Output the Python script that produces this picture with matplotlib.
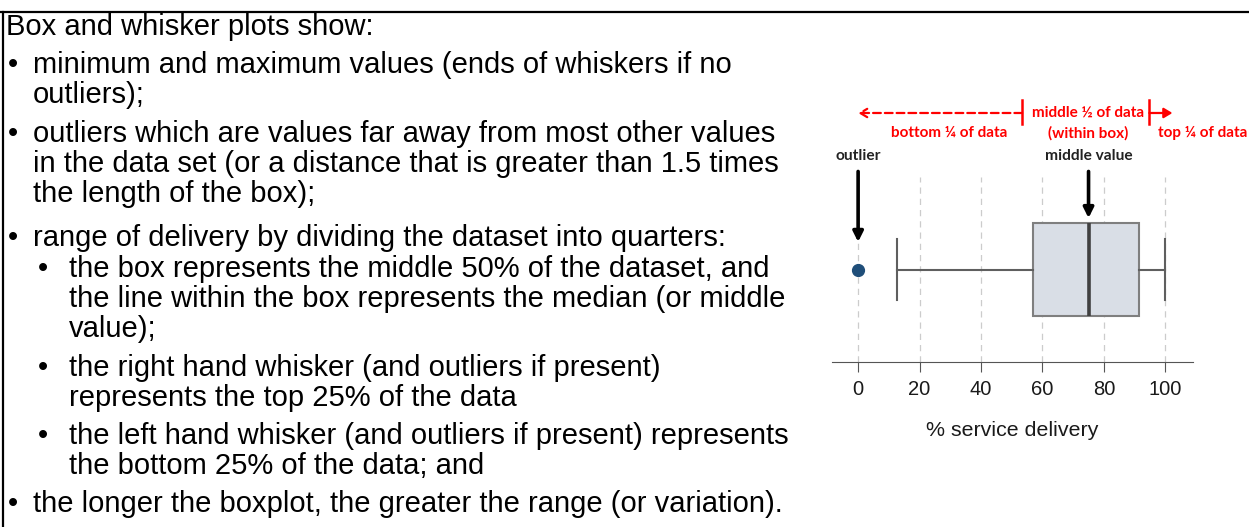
import matplotlib.pyplot as plt
from matplotlib.lines import Line2D

# box plot summary (% service delivery)
q1 = 57
median = 75
q3 = 91.5
whisker_low = 12.7
whisker_high = 100
outliers = [0]
ticks = [0, 20, 40, 60, 80, 100]

# left hand text: (bullet x, text x, text)
lines = [
    (None, 6, "Box and whisker plots show:"),
    (8, 33, "minimum and maximum values (ends of whiskers if no"),
    (None, 33, "outliers);"),
    (8, 33, "outliers which are values far away from most other values"),
    (None, 33, "in the data set (or a distance that is greater than 1.5 times"),
    (None, 33, "the length of the box);"),
    (8, 33, "range of delivery by dividing the dataset into quarters:"),
    (38, 69, "the box represents the middle 50% of the dataset, and"),
    (None, 69, "the line within the box represents the median (or middle"),
    (None, 69, "value);"),
    (38, 69, "the right hand whisker (and outliers if present)"),
    (None, 69, "represents the top 25% of the data"),
    (38, 69, "the left hand whisker (and outliers if present) represents"),
    (None, 69, "the bottom 25% of the data; and"),
    (8, 33, "the longer the boxplot, the greater the range (or variation)."),
]
# baselines in pixels from the top
line_y = [35, 73, 103, 142, 172, 202, 246, 277, 307, 337, 376, 406, 444, 474, 512]

W, H = 1249, 527
fig = plt.figure(figsize=(W / 100, H / 100), dpi=100)

# frame lines (top and left)
fig.add_artist(Line2D([0, 1], [1 - 11.5 / H, 1 - 11.5 / H], color="black", lw=1.6))
fig.add_artist(Line2D([3 / W, 3 / W], [0, 1 - 11.5 / H], color="black", lw=1.6))

fs = 21
for (bx, tx, txt), y in zip(lines, line_y):
    if bx is not None:
        fig.text(bx / W, 1 - y / H, "\u2022", family="Liberation Sans", fontsize=fs,
                 va="baseline", ha="left")
    fig.text(tx / W, 1 - y / H, txt, family="Liberation Sans", fontsize=fs,
             va="baseline", ha="left", color="black")

ax = fig.add_axes([832 / W, 1 - 362 / H, (1193 - 832) / W, (362 - 177) / H])
stats = [dict(med=median, q1=q1, q3=q3, whislo=whisker_low, whishi=whisker_high,
              fliers=outliers)]
ax.bxp(stats, positions=[0.5], widths=0.5, vert=False, patch_artist=True,
       capwidths=0.33,
       boxprops=dict(facecolor="#d9dee6", edgecolor="#7f7f7f", linewidth=1.5),
       medianprops=dict(color="#404040", linewidth=2.6),
       whiskerprops=dict(color="#5f5f5f", linewidth=1.5),
       capprops=dict(color="#5f5f5f", linewidth=1.5),
       flierprops=dict(marker="o", markerfacecolor="#1f4e79", markeredgecolor="#1f4e79",
                       markersize=8.5))
ax.set_xlim(-8.5, 109)
ax.set_ylim(0, 1)
ax.set_xticks(ticks)
ax.set_yticks([])
for t in ticks:
    ax.axvline(t, color="#cccccc", lw=0.9, ls=(0, (5, 4)), zorder=0)
for s in ["top", "left", "right"]:
    ax.spines[s].set_visible(False)
ax.spines["bottom"].set_color("#555555")
ax.tick_params(axis="x", direction="out", length=7, color="#555555", pad=6,
               labelsize=14.5, labelcolor="#1a1a1a")
for lab in ax.get_xticklabels():
    lab.set_family("Liberation Sans")
ax.set_xlabel("% service delivery", family="Liberation Sans", fontsize=15.4,
              color="#1a1a1a", labelpad=16)

tr = ax.get_xaxis_transform()
# black arrows
astyle = dict(arrowstyle="-|>,head_length=0.6,head_width=0.3", color="black",
              lw=2.6, shrinkA=0, shrinkB=0)
ax.annotate("", xy=(outliers[0], 0.649), xytext=(outliers[0], 1.03), xycoords=tr,
            arrowprops=astyle, annotation_clip=False)
ax.annotate("", xy=(median, 0.778), xytext=(median, 1.03), xycoords=tr,
            arrowprops=astyle, annotation_clip=False)
bfont = dict(family=["Lato", "DejaVu Sans"], fontweight="bold", fontsize=11.2,
             color="#222222", ha="center", va="center", transform=tr)
ax.text(outliers[0], 1.114, "outlier", **bfont)
ax.text(median, 1.114, "middle value", **bfont)

# red annotation
red = "#ff0000"
xl, xr = 53.4, 94.8
ax.annotate("", xy=(0, 1.346), xytext=(xl, 1.346), xycoords=tr,
            arrowprops=dict(arrowstyle="->,head_length=0.5,head_width=0.3", color=red,
                            lw=1.6, ls=(0, (3.5, 1.8)), shrinkA=0, shrinkB=0),
            annotation_clip=False)
ax.annotate("", xy=(102.3, 1.346), xytext=(xr, 1.346), xycoords=tr,
            arrowprops=dict(arrowstyle="-|>,head_length=0.5,head_width=0.3", color=red,
                            lw=1.6, shrinkA=0, shrinkB=0),
            annotation_clip=False)
for xv in (xl, xr):
    ax.plot([xv, xv], [1.286, 1.416], transform=tr, color=red, lw=1.8, clip_on=False)
rfont = dict(family=["Lato", "DejaVu Sans"], fontweight="bold", fontsize=11, color=red,
             ha="center", va="center", transform=tr)
ax.text(median, 1.346, "middle \u00bd of data", **rfont)
ax.text(29.6, 1.238, "bottom \u00bc of data", **rfont)
ax.text(median, 1.238, "(within box)", **rfont)
ax.text(112, 1.238, "top \u00bc of data", clip_on=False, **rfont)

fig.savefig("out.png", dpi=100)
